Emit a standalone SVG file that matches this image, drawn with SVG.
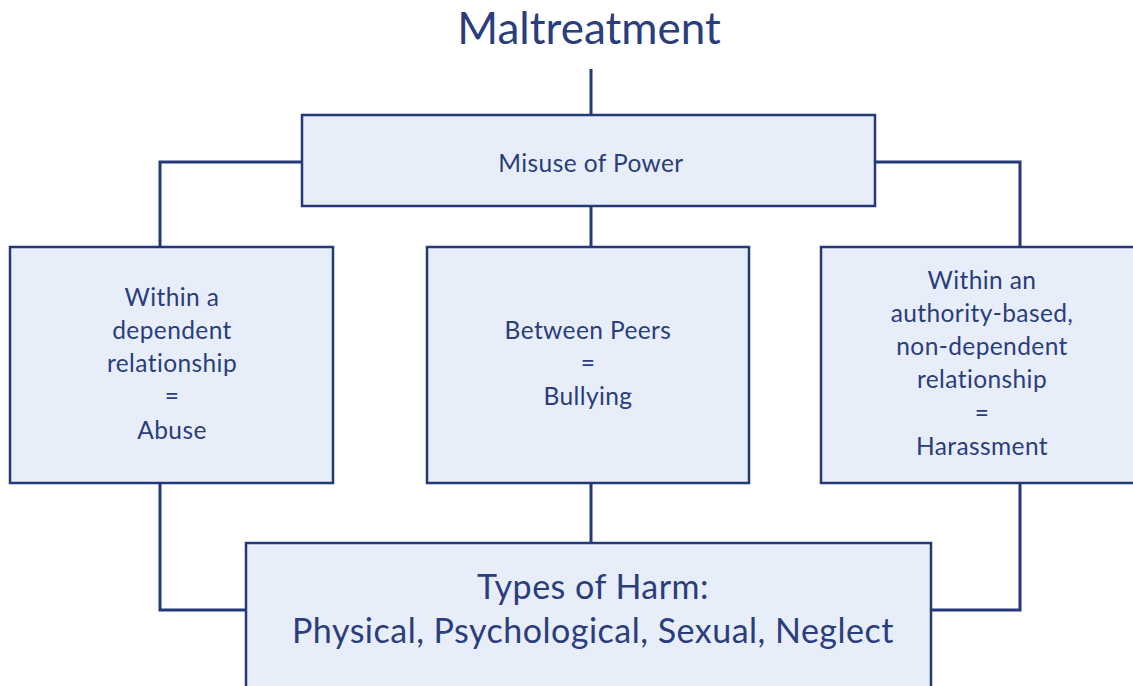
<svg xmlns="http://www.w3.org/2000/svg" width="1133" height="686" viewBox="0 0 1133 686">
<style>
.box{fill:#e7eef9;stroke:#23397a;stroke-width:2.5}
.ln{fill:none;stroke:#23397a;stroke-width:3}
text{font-family:Lato,"Noto Sans","Liberation Sans",sans-serif;fill:#2a3d7c;text-anchor:middle}
.t{font-size:24.5px;letter-spacing:0.4px}
.big{font-size:34px;letter-spacing:0.5px}
</style>
<rect width="1133" height="686" fill="#fff"/>
<g id="title"><text x="589" y="44" style="font-size:44px">Maltreatment</text></g>
<g id="connectors">
<path class="ln" d="M591 69V115"/>
<path class="ln" d="M302 162H160V247"/>
<path class="ln" d="M875 162H1020V247"/>
<path class="ln" d="M591 206V247"/>
<path class="ln" d="M160 483V610H246"/>
<path class="ln" d="M591 483V543"/>
<path class="ln" d="M1020 483V610H931"/>
</g>
<g id="misuse"><rect class="box" x="302" y="115" width="573" height="91"/><text class="t" x="591" y="172">Misuse of Power</text></g>
<g id="abuse"><rect class="box" x="10" y="247" width="323" height="236"/>
<text class="t" x="172" y="306">Within a</text><text class="t" x="172" y="339">dependent</text><text class="t" x="172" y="372">relationship</text><text class="t" x="172" y="405">=</text><text class="t" x="172" y="439">Abuse</text></g>
<g id="bullying"><rect class="box" x="427" y="247" width="322" height="236"/>
<text class="t" x="588" y="339">Between Peers</text><text class="t" x="588" y="372">=</text><text class="t" x="588" y="405">Bullying</text></g>
<g id="harassment"><rect class="box" x="821" y="247" width="320" height="236"/>
<text class="t" x="982" y="289">Within an</text><text class="t" x="982" y="322">authority-based,</text><text class="t" x="982" y="355">non-dependent</text><text class="t" x="982" y="388">relationship</text><text class="t" x="982" y="422">=</text><text class="t" x="982" y="455">Harassment</text></g>
<g id="harm"><rect class="box" x="246" y="543" width="685" height="150"/>
<text class="big" x="593" y="599">Types of Harm:</text><text class="big" x="593" y="643">Physical, Psychological, Sexual, Neglect</text></g>
</svg>
